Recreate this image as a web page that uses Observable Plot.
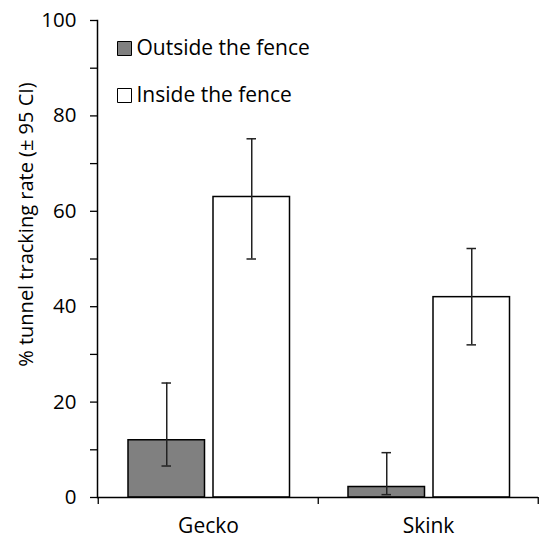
<!DOCTYPE html>
<html>
<head>
<meta charset="utf-8">
<script src="https://cdn.jsdelivr.net/npm/d3@7"></script>
<script src="https://cdn.jsdelivr.net/npm/@observablehq/plot@0.6"></script>
<style>
  html, body { margin: 0; padding: 0; background: #fff; }
  #chart svg { display: block; }
</style>
</head>
<body>
<div id="chart"></div>
<script>
const species = ["Gecko", "Skink"];
const locations = ["Outside the fence", "Inside the fence"];
const outsideRate = [12, 2.2];
const outsideLow = [6.6, 0.6];
const outsideHigh = [24, 9.4];
const insideRate = [63, 42];
const insideLow = [50, 32];
const insideHigh = [75.2, 52.2];
const yTicks = [0, 10, 20, 30, 40, 50, 60, 70, 80, 90, 100];
const yLabels = [0, 20, 40, 60, 80, 100];

const outside = species.map((s, i) => ({species: s, location: locations[0], rate: outsideRate[i], lo: outsideLow[i], hi: outsideHigh[i]}));
const inside = species.map((s, i) => ({species: s, location: locations[1], rate: insideRate[i], lo: insideLow[i], hi: insideHigh[i]}));

const W = 539, H = 538, ML = 97, MR = 1, MT = 20, MB = 41;
const bw = (W - ML - MR) / species.length; // band width
const barW = 77, padL = 30, gap = 8;
const oL = padL, oR = bw - padL - barW;
const iL = padL + barW + gap, iR = bw - iL - barW;
const oC = oL + barW / 2 - bw / 2, iC = iL + barW / 2 - bw / 2;
const cap = 5;
const tickLen = 7 * 100 / (H - MT - MB); // 7px in data units
const font = "'Open Sans', sans-serif";
const sq = 14 / Math.sqrt(Math.PI);

const chart = Plot.plot({
  width: W, height: H,
  marginLeft: ML, marginRight: MR, marginTop: MT, marginBottom: MB,
  style: {fontFamily: font, fontSize: "20px", color: "#000", background: "#fff"},
  x: {domain: species, padding: 0, label: null},
  y: {domain: [0, 100], label: null},
  marks: [
    Plot.barY(outside, {x: "species", y: "rate", fill: "#808080", stroke: "#000", strokeWidth: 1.5, insetLeft: oL, insetRight: oR}),
    Plot.barY(inside, {x: "species", y: "rate", fill: "#fff", stroke: "#000", strokeWidth: 1.5, insetLeft: iL, insetRight: iR}),
    Plot.ruleX(outside, {x: "species", y1: "lo", y2: "hi", dx: oC, stroke: "#222", strokeWidth: 1.5}),
    Plot.ruleX(inside, {x: "species", y1: "lo", y2: "hi", dx: iC, stroke: "#222", strokeWidth: 1.5}),
    Plot.tickY(outside, {x: "species", y: "lo", insetLeft: bw/2 + oC - cap, insetRight: bw/2 - oC - cap, stroke: "#222", strokeWidth: 1.5}),
    Plot.tickY(outside, {x: "species", y: "hi", insetLeft: bw/2 + oC - cap, insetRight: bw/2 - oC - cap, stroke: "#222", strokeWidth: 1.5}),
    Plot.tickY(inside, {x: "species", y: "lo", insetLeft: bw/2 + iC - cap, insetRight: bw/2 - iC - cap, stroke: "#222", strokeWidth: 1.5}),
    Plot.tickY(inside, {x: "species", y: "hi", insetLeft: bw/2 + iC - cap, insetRight: bw/2 - iC - cap, stroke: "#222", strokeWidth: 1.5}),
    Plot.axisY({ticks: yTicks, tickSize: 7, tickPadding: 14, tickFormat: d => yLabels.includes(d) ? String(d) : "", stroke: "#000", strokeWidth: 1.3, fontSize: 20.5, label: null}),
    Plot.text(["% tunnel tracking rate (± 95 CI)"], {frameAnchor: "left", textAnchor: "middle", lineAnchor: "middle", dx: -71, dy: -34.5, rotate: -90, fontSize: 20, fill: "#000"}),
    Plot.axisX({tickSize: 0, tickPadding: 21, fontSize: 21, label: null}),
    Plot.ruleX(species, {x: d => d, dx: -bw / 2, y1: 0, y2: -tickLen, stroke: "#000", strokeWidth: 1.3}),
    Plot.ruleX(species.slice(-1), {x: d => d, dx: bw / 2 - 0.5, y1: 0, y2: -tickLen, stroke: "#000", strokeWidth: 1.3}),
    Plot.ruleY([0], {stroke: "#000", strokeWidth: 1.5}),
    Plot.frame({anchor: "left", stroke: "#000", strokeWidth: 1.5}),
    Plot.dot([locations[0]], {frameAnchor: "top-left", dx: 27, dy: 28, symbol: "square", r: sq, fill: "#808080", stroke: "#000", strokeWidth: 1}),
    Plot.dot([locations[1]], {frameAnchor: "top-left", dx: 27, dy: 75, symbol: "square", r: sq, fill: "#fff", stroke: "#000", strokeWidth: 1}),
    Plot.text([locations[0]], {text: d => d, frameAnchor: "top-left", dx: 39, dy: 28, textAnchor: "start", lineAnchor: "middle", fontSize: 21, fill: "#000"}),
    Plot.text([locations[1]], {text: d => d, frameAnchor: "top-left", dx: 39, dy: 75, textAnchor: "start", lineAnchor: "middle", fontSize: 21, fill: "#000"})
  ]
});
document.getElementById("chart").appendChild(chart);
</script>
</body>
</html>
